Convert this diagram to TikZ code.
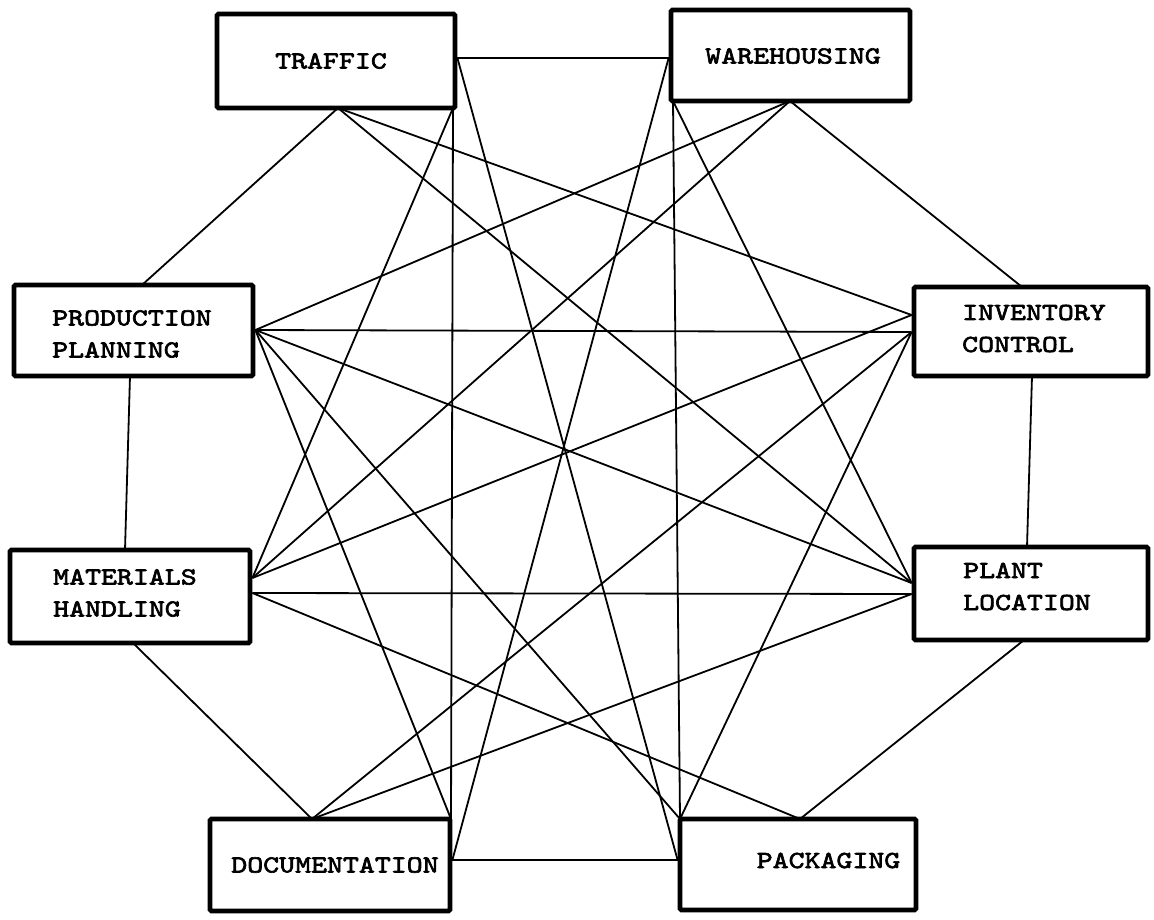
\documentclass[tikz,border=0pt]{standalone}
\usepackage{fontspec}
\usetikzlibrary{backgrounds}
\newfontfamily\typer{lmmono10-regular.otf}[FakeStretch=1.24, FakeBold=2.6]
\tikzset{
  dept/.style={draw=black, fill=white, line width=4.8pt, rectangle,
    inner sep=0pt, rounded corners=1.5pt},
  caption/.style={font=\typer\bfseries\fontsize{24.5}{32}\selectfont, inner sep=0pt,
    align=left, text=black},
  link/.style={draw=black, line width=1.8pt},
}
\begin{document}
\begin{tikzpicture}[x=1pt, y=-1pt]
\useasboundingbox (0,0) rectangle (1154,920);

% departments, placed round an octagon
\node[dept, minimum width=238pt, minimum height=94pt] (tr) at (336,61) {};
\node[dept, minimum width=239pt, minimum height=91pt] (wh) at (790.5,55.5) {};
\node[dept, minimum width=239pt, minimum height=91pt] (pp) at (133.5,330.5) {};
\node[dept, minimum width=234pt, minimum height=89pt] (ic) at (1031,331.5) {};
\node[dept, minimum width=240pt, minimum height=93pt] (mh) at (130,596.5) {};
\node[dept, minimum width=234pt, minimum height=93pt] (pl) at (1031,593.5) {};
\node[dept, minimum width=240pt, minimum height=92pt] (doc) at (330,865) {};
\node[dept, minimum width=236pt, minimum height=91pt] (pk) at (798,864.5) {};

% box labels
\node[caption] (trT) at (331,61) {TRAFFIC};
\node[caption] (whT) at (793,56) {WAREHOUSING};
\node[caption, anchor=west] (ppT) at (52,334) {PRODUCTION\\PLANNING};
\node[caption, anchor=west] (icT) at (962,328.5) {INVENTORY\\CONTROL};
\node[caption, anchor=west] (mhT) at (53,593) {MATERIALS\\HANDLING};
\node[caption, anchor=west] (plT) at (963,586.5) {PLANT\\LOCATION};
\node[caption] (docT) at (335,865) {DOCUMENTATION};
\node[caption] (pkT) at (828.5,860.5) {PACKAGING};

% attachment points on the box outlines
\coordinate (trR)  at (tr.east |- 0,58);
\coordinate (trB)  at (338,108);
\coordinate (trBR) at (453,108);
\coordinate (whL)  at (wh.west |- 0,58);
\coordinate (whBL) at (673,101);
\coordinate (whB)  at (790,101);
\coordinate (ppT)  at (142,285);
\coordinate (ppR)  at (pp.east |- 0,330);
\coordinate (ppB)  at (130,376);
\coordinate (icT)  at (1022,287);
\coordinate (icA)  at (ic.west |- 0,315);
\coordinate (icB)  at (ic.west |- 0,332);
\coordinate (icBt) at (1032,376);
\coordinate (mhT)  at (125,550);
\coordinate (mhE)  at (mh.east |- 0,578);
\coordinate (mhF)  at (mh.east |- 0,593);
\coordinate (mhBt) at (133,643);
\coordinate (plT)  at (1027,547);
\coordinate (plC)  at (pl.west |- 0,583);
\coordinate (plD)  at (pl.west |- 0,594);
\coordinate (plBt) at (1024,640);
\coordinate (docT)  at (312,819);
\coordinate (docTR) at (451,819);
\coordinate (docR)  at (doc.east |- 0,860);
\coordinate (pkTL) at (680,819);
\coordinate (pkL)  at (pk.west |- 0,860);
\coordinate (pkT)  at (800,819);

% every department linked with every other one, under the boxes
\begin{pgfonlayer}{background}
\fill[white] (0,0) rectangle (1154,920);
\draw[link] (trR) -- (whL);
\draw[link] (trR) -- (pkL);
\draw[link] (trB) -- (ppT);
\draw[link] (trB) -- (icA);
\draw[link] (trB) -- (plC);
\draw[link] (trBR) -- (mhE);
\draw[link] (trBR) -- (docTR);
\draw[link] (whL) -- (docR);
\draw[link] (whBL) -- (plC);
\draw[link] (whBL) -- (pkTL);
\draw[link] (whB) -- (ppR);
\draw[link] (whB) -- (mhE);
\draw[link] (whB) -- (icT);
\draw[link] (ppR) -- (icB);
\draw[link] (ppR) -- (plC);
\draw[link] (ppR) -- (docTR);
\draw[link] (ppR) -- (pkTL);
\draw[link] (ppB) -- (mhT);
\draw[link] (icA) -- (mhE);
\draw[link] (icB) -- (docT);
\draw[link] (icB) -- (pkTL);
\draw[link] (icBt) -- (plT);
\draw[link] (plD) -- (mhF);
\draw[link] (plD) -- (docT);
\draw[link] (plBt) -- (pkT);
\draw[link] (mhF) -- (pkT);
\draw[link] (mhBt) -- (docT);
\draw[link] (docR) -- (pkL);
\end{pgfonlayer}
\end{tikzpicture}
\end{document}
